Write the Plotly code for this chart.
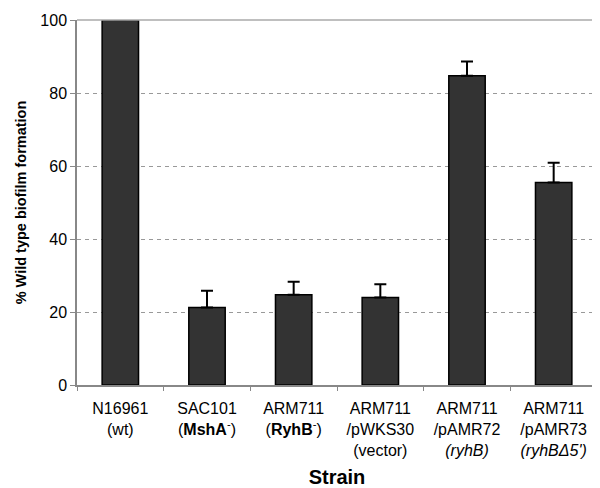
import plotly.graph_objects as go

categories = [
    "N16961<br>(wt)",
    "SAC101<br>(<b>MshA</b><sup>-</sup>)",
    "ARM711<br>(<b>RyhB</b><sup>-</sup>)",
    "ARM711<br>/pWKS30<br>(vector)",
    "ARM711<br>/pAMR72<br><i>(ryhB)</i>",
    "ARM711<br>/pAMR73<br><i>(ryhBΔ5')</i>",
]
values = [100, 21.2, 24.7, 24.0, 84.7, 55.5]
errors = [0, 4.6, 3.6, 3.6, 3.9, 5.4]
y_ticks = [0, 20, 40, 60, 80, 100]

font = "Liberation Sans, Arial, sans-serif"

fig = go.Figure()
fig.add_trace(go.Bar(
    x=categories,
    y=values,
    width=0.42,
    marker=dict(color="#333333", line=dict(color="#000000", width=1.5)),
    error_y=dict(type="data", array=errors, symmetric=False, arrayminus=[0]*6,
                 color="#000000", thickness=2, width=6),
    showlegend=False,
))

# page body has an 8px default margin, so the figure is sized to fit the window
fig.update_layout(
    width=592, height=480,
    margin=dict(l=69, r=3, t=12, b=103),
    plot_bgcolor="white", paper_bgcolor="white",
    font=dict(family=font, size=16, color="#000000"),
)
fig.update_xaxes(
    type="category", automargin=False,
    showline=True, linecolor="#888888", linewidth=1.5,
    ticks="outside", tickson="boundaries", ticklen=4, tickcolor="#888888",
    ticklabelstandoff=8,
    tickfont=dict(size=16),
    title=dict(text="<b>Strain</b>", font=dict(size=20), standoff=12),
)
fig.update_yaxes(
    range=[0, 100], automargin=False,
    tickvals=y_ticks,
    showline=True, linecolor="#888888", linewidth=1.5,
    ticks="outside", ticklen=5, tickcolor="#888888",
    showgrid=True, gridcolor="#999999", griddash="4px,4px", gridwidth=1,
    tickfont=dict(size=16),
    title=dict(text="<b>% Wild type biofilm formation</b>", font=dict(size=14.5), standoff=10),
)
# right and top border of plot area
fig.add_shape(type="line", xref="paper", yref="paper", x0=1, x1=1, y0=0, y1=1,
              line=dict(color="#aaaaaa", width=1.5))
fig.add_shape(type="line", xref="paper", yref="paper", x0=0, x1=1, y0=1, y1=1,
              line=dict(color="#aaaaaa", width=1.5))

fig.write_html("out.html")
